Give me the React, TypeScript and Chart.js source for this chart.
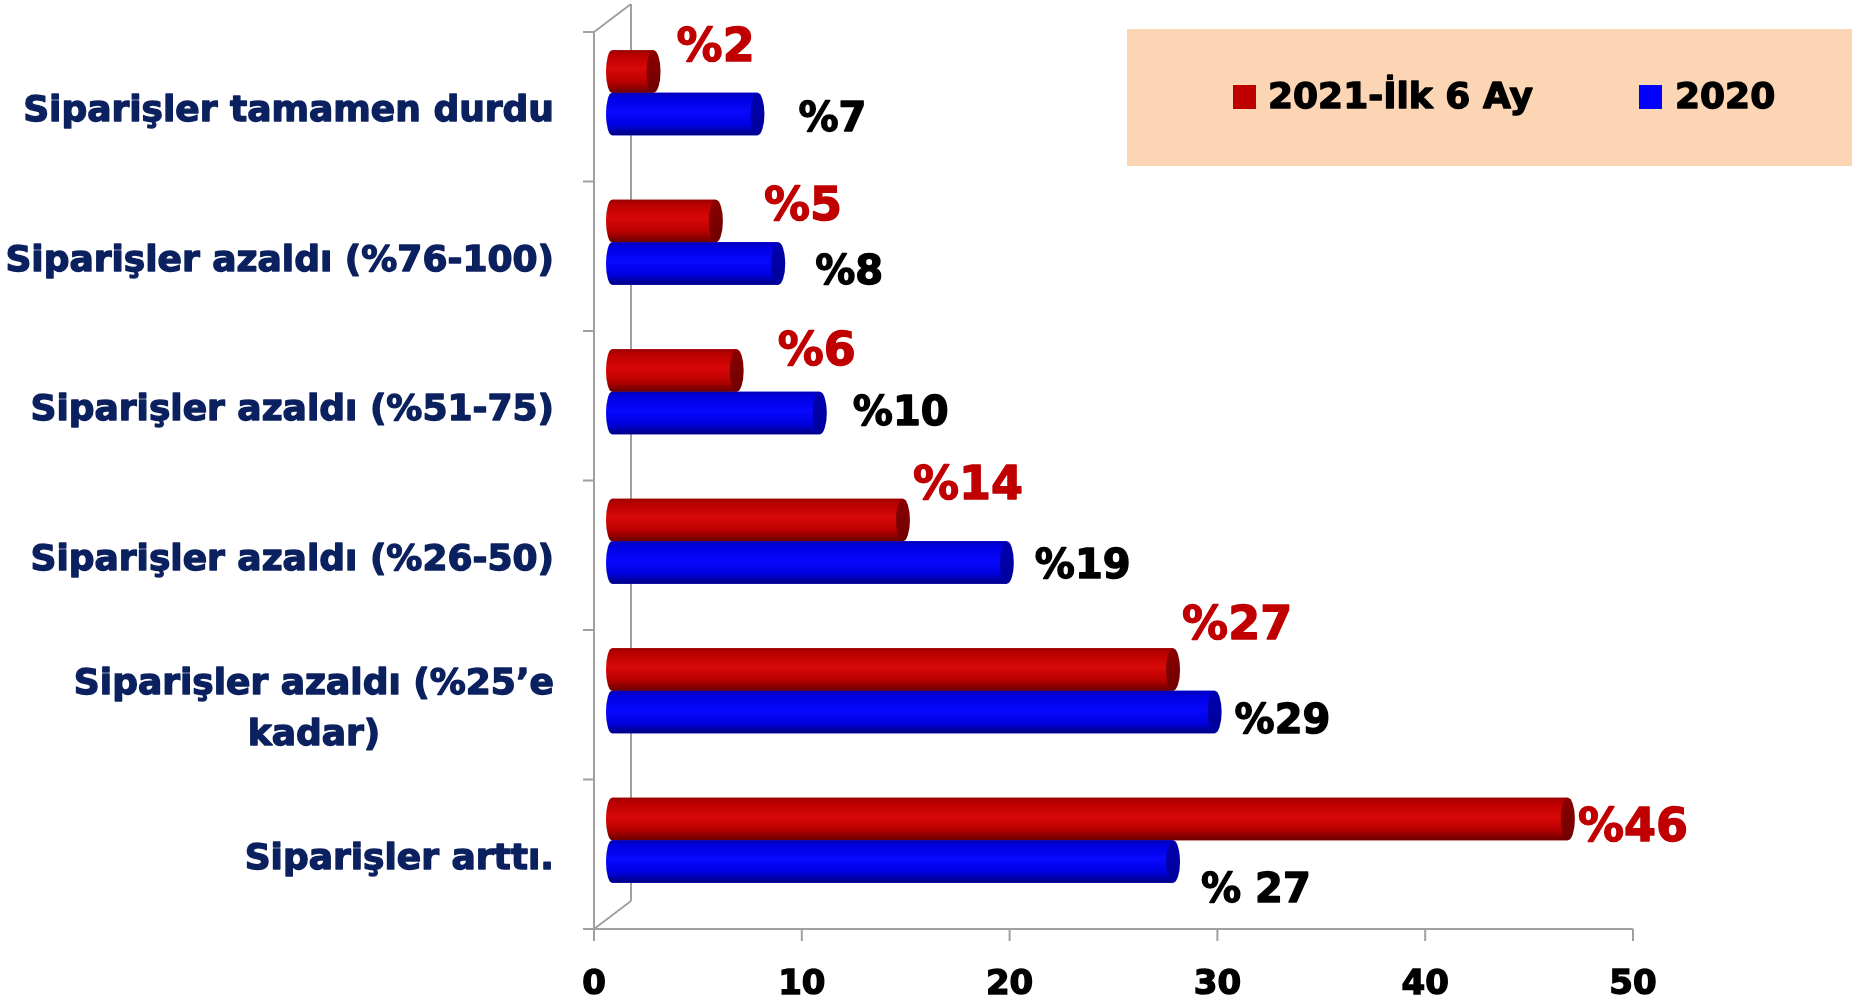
import React, { useEffect, useRef } from "react";
import { Chart, registerables } from "chart.js";

Chart.register(...registerables);

// ---------- data ----------
const categories: (string | string[])[] = [
  "Siparişler tamamen durdu",
  "Siparişler azaldı (%76-100)",
  "Siparişler azaldı (%51-75)",
  "Siparişler azaldı (%26-50)",
  ["Siparişler azaldı (%25’e", "kadar)"],
  "Siparişler arttı.",
];
const seriesNames = ["2021-İlk 6 Ay", "2020"];
const values2021 = [2, 5, 6, 14, 27, 46];
const values2020 = [7, 8, 10, 19, 29, 27];
const labels2021 = ["%2", "%5", "%6", "%14", "%27", "%46"];
const labels2020 = ["%7", "%8", "%10", "%19", "%29", "% 27"];
const xMin = 0;
const xMax = 50;
const xStep = 10;

// ---------- styles ----------
const FONT = "'DejaVu Sans', 'Liberation Sans', Arial, sans-serif";
const seriesColors = ["#c00000", "#0000ff"];
const bodyStops = [
  [
    [0, "#9a0000"],
    [0.12, "#bb0000"],
    [0.45, "#d80808"],
    [0.75, "#b80000"],
    [1, "#6a0000"],
  ],
  [
    [0, "#0000b8"],
    [0.12, "#0000e0"],
    [0.45, "#0808ff"],
    [0.75, "#0000e0"],
    [1, "#000080"],
  ],
];
const capColors = [
  ["#8a0000", "#700000"],
  ["#0000b0", "#00009a"],
];
const labelColors = ["#c00000", "#000000"];
const labelSizes = [46, 40];
const labelDx = [
  [16, 41, 34, 3, 2, 3],
  [34, 30, 26, 21, 13, 21],
];
const labelDy = [
  [-26, -16, -21, -36, -46, 7],
  [4, 7, -1, 2, 8, 27],
];
const TEXT_STROKE = 1.4;
const CAT_COLOR = "#0b205e";

// 3D offsets: front plane (axes) and back wall relative to the bar plane
const FRONT_DX = -18;
const FRONT_DY = 14;
const BACK_DX = 19;
const BACK_DY = -14;
const CAP_RX = 7;
const LEFT_RX = 6;

function heavyText(ctx: any, text: string, x: number, y: number, color: string) {
  ctx.fillStyle = color;
  ctx.strokeStyle = color;
  ctx.lineWidth = TEXT_STROKE;
  ctx.lineJoin = "round";
  ctx.strokeText(text, x, y);
  ctx.fillText(text, x, y);
}

const wallPlugin = {
  id: "wall3d",
  beforeDatasetsDraw(chart: any) {
    const { ctx, chartArea: a, scales } = chart;
    const x = scales.x;
    const y = scales.y;
    const n = chart.data.labels.length;
    const fl = a.left + FRONT_DX;
    const ft = a.top + FRONT_DY;
    const fb = a.bottom + FRONT_DY;
    const bl = a.left + BACK_DX;
    const bt = a.top + BACK_DY;
    const bb = a.bottom + BACK_DY;
    ctx.save();
    ctx.strokeStyle = "#a0a0a0";
    ctx.lineWidth = 2;
    ctx.beginPath();
    ctx.moveTo(fl, ft);
    ctx.lineTo(fl, fb);
    ctx.moveTo(bl, bt);
    ctx.lineTo(bl, bb);
    ctx.moveTo(fl, ft);
    ctx.lineTo(bl, bt);
    ctx.moveTo(fl, fb);
    ctx.lineTo(bl, bb);
    ctx.moveTo(x.getPixelForValue(xMin) + FRONT_DX, fb);
    ctx.lineTo(x.getPixelForValue(xMax) + FRONT_DX, fb);
    for (let i = 0; i <= n; i++) {
      const yy = y.getPixelForValue(i - 0.5) + FRONT_DY;
      ctx.moveTo(fl - 11, yy);
      ctx.lineTo(fl, yy);
    }
    for (let v = xMin; v <= xMax; v += xStep) {
      const xx = x.getPixelForValue(v) + FRONT_DX;
      ctx.moveTo(xx, fb);
      ctx.lineTo(xx, fb + 12);
    }
    ctx.stroke();
    ctx.restore();

    // category labels (right-aligned block, lines centred inside block)
    ctx.save();
    ctx.font = `bold 36px ${FONT}`;
    ctx.textAlign = "center";
    ctx.textBaseline = "middle";
    const right = a.left - 58;
    const lh = 51;
    chart.data.labels.forEach((lab: any, i: number) => {
      const lines: string[] = Array.isArray(lab) ? lab : [lab];
      const w = Math.max(...lines.map((l) => ctx.measureText(l).width));
      const cx = right - w / 2;
      const cy = y.getPixelForValue(i) + FRONT_DY + 5;
      lines.forEach((l, j) => {
        heavyText(ctx, l, cx, cy + (j - (lines.length - 1) / 2) * lh, CAT_COLOR);
      });
    });
    ctx.restore();
  },
};

const cylinderPlugin = {
  id: "cylinders",
  afterDatasetsDraw(chart: any) {
    const { ctx } = chart;
    chart.data.datasets.forEach((_d: any, di: number) => {
      const meta = chart.getDatasetMeta(di);
      meta.data.forEach((el: any, i: number) => {
        const { x: ex, y: ey, base, height } = el.getProps(["x", "y", "base", "height"], true);
        const top = ey - height / 2;
        const bot = ey + height / 2;
        const g = ctx.createLinearGradient(0, top, 0, bot);
        bodyStops[di].forEach(([o, c]: any) => g.addColorStop(o, c));
        ctx.save();
        ctx.fillStyle = g;
        ctx.beginPath();
        ctx.moveTo(base, top);
        ctx.lineTo(ex, top);
        ctx.lineTo(ex, bot);
        ctx.lineTo(base, bot);
        ctx.ellipse(base, ey, LEFT_RX, height / 2, 0, Math.PI / 2, (3 * Math.PI) / 2);
        ctx.closePath();
        ctx.fill();
        const gc = ctx.createLinearGradient(0, top, 0, bot);
        gc.addColorStop(0, capColors[di][0]);
        gc.addColorStop(1, capColors[di][1]);
        ctx.fillStyle = gc;
        ctx.beginPath();
        ctx.ellipse(ex, ey, CAP_RX, height / 2, 0, 0, Math.PI * 2);
        ctx.fill();
        ctx.restore();

        // value label
        const texts = di === 0 ? labels2021 : labels2020;
        const size = labelSizes[di];
        ctx.save();
        ctx.font = `bold ${size}px ${FONT}`;
        ctx.textAlign = "left";
        ctx.textBaseline = "middle";
        heavyText(ctx, texts[i], ex + CAP_RX + labelDx[di][i], ey + labelDy[di][i] + 0.07 * size, labelColors[di]);
        ctx.restore();
      });
    });
  },
};

const legendPlugin = {
  id: "peachLegend",
  afterDraw(chart: any) {
    const { ctx } = chart;
    ctx.save();
    ctx.fillStyle = "#fcd5b5";
    ctx.fillRect(1127, 29, chart.width - 1127, 137);
    const items = [
      { sx: 1233, tx: 1268 },
      { sx: 1639, tx: 1675 },
    ];
    ctx.font = `bold 36px ${FONT}`;
    ctx.textBaseline = "middle";
    ctx.textAlign = "left";
    chart.data.datasets.forEach((d: any, i: number) => {
      ctx.fillStyle = seriesColors[i];
      ctx.fillRect(items[i].sx, 85, 23, 24);
      heavyText(ctx, d.label, items[i].tx, 99, "#000000");
    });
    ctx.restore();
  },
};

export default function App() {
  const ref = useRef<HTMLCanvasElement | null>(null);
  useEffect(() => {
    if (!ref.current) return;
    const chart = new Chart(ref.current, {
      type: "bar",
      data: {
        labels: categories as any,
        datasets: [
          { label: seriesNames[0], data: values2021, backgroundColor: seriesColors[0] },
          { label: seriesNames[1], data: values2020, backgroundColor: seriesColors[1] },
        ],
      },
      options: {
        indexAxis: "y",
        responsive: false,
        animation: false,
        devicePixelRatio: 1,
        layout: { padding: { top: 18, right: 201, bottom: 0, left: 0 } },
        datasets: { bar: { categoryPercentage: 0.57, barPercentage: 1 } },
        plugins: { legend: { display: false }, tooltip: { enabled: false } },
        scales: {
          x: {
            type: "linear",
            min: xMin,
            max: xMax,
            position: "bottom",
            grid: { display: false, drawTicks: false },
            border: { display: false },
            ticks: {
              stepSize: xStep,
              labelOffset: FRONT_DX,
              padding: 50,
              color: "#000000",
              textStrokeColor: "#000000",
              textStrokeWidth: TEXT_STROKE,
              font: { family: FONT, size: 34, weight: "bold" },
            },
            afterFit: (s: any) => {
              s.height = 88;
            },
          },
          y: {
            type: "category",
            grid: { display: false, drawTicks: false },
            border: { display: false },
            ticks: { display: false },
            afterFit: (s: any) => {
              s.width = 612;
            },
          },
        },
      } as any,
      plugins: [wallPlugin, cylinderPlugin, legendPlugin],
    });
    return () => chart.destroy();
  }, []);
  return (
    <div
      style={{
        position: "fixed",
        left: 0,
        top: 0,
        width: 1852,
        height: 1003,
        background: "#ffffff",
      }}
    >
      <canvas ref={ref} width={1852} height={1003} style={{ width: 1852, height: 1003 }} />
    </div>
  );
}
